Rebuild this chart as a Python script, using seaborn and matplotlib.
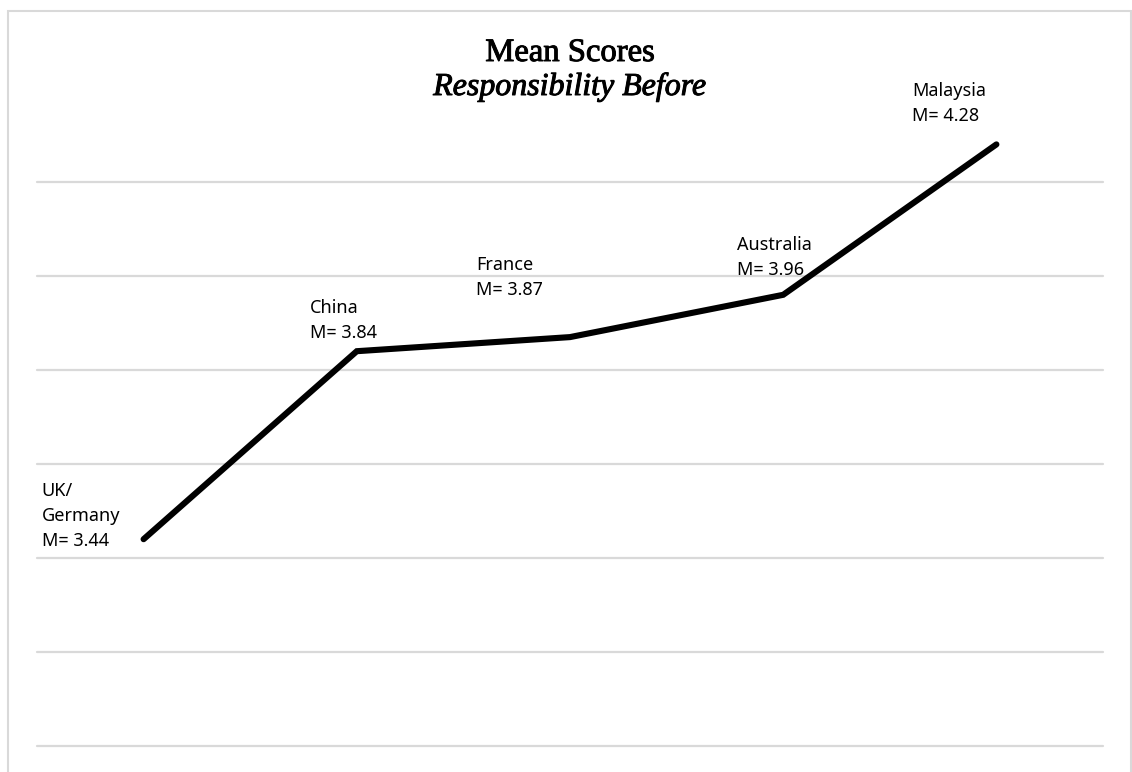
import matplotlib
matplotlib.use("Agg")
import matplotlib.pyplot as plt
import matplotlib.patheffects as pe
import seaborn as sns
import pandas as pd
from matplotlib.patches import Rectangle

# Mean responsibility scores (before) per country group
countries = ["UK/\nGermany", "China", "France", "Australia", "Malaysia"]
means = [3.44, 3.84, 3.87, 3.96, 4.28]
label_names = ["UK/\nGermany", "China", "France", "Australia", "Malaysia"]

title_main = "Mean Scores"
title_sub = "Responsibility Before"

grid_values = [3.0, 3.2, 3.4, 3.6, 3.8, 4.0, 4.2]

sns.set_theme(style="white")
plt.rcParams["font.family"] = ["Noto Sans", "DejaVu Sans"]

W, H, DPI = 1132, 772, 100
fig = plt.figure(figsize=(W / DPI, H / DPI), dpi=DPI)
ax = fig.add_axes([37 / W, 26 / H, 1066 / W, 658 / H])

df = pd.DataFrame({"country": countries, "mean": means})
df["pos"] = range(len(df))

sns.lineplot(data=df, x="pos", y="mean", ax=ax, color="black", linewidth=4.4,
             sort=False, solid_capstyle="round", solid_joinstyle="miter")

ax.set_xlim(-0.5, len(df) - 0.5)
ax.set_ylim(3.0, 4.4)
ax.set_yticks(grid_values)
ax.set_xticks([])
ax.yaxis.grid(True, color="#d9d9d9", linewidth=1.6)
for gl in ax.get_ygridlines():
    gl.set_clip_on(False)
ax.xaxis.grid(False)
ax.tick_params(left=False, bottom=False, labelleft=False, labelbottom=False)
ax.set_xlabel("")
ax.set_ylabel("")
for s in ax.spines.values():
    s.set_visible(False)
ax.set_axisbelow(True)

# label offsets (pixels) from each point to the top-left of its label
offsets = [(-102, 57), (-47, 52), (-94, 81), (-46, 59), (-84, 62)]
for i, (name, m) in enumerate(zip(label_names, means)):
    dx, dy = offsets[i]
    ax.annotate(f"{name}\nM= {m:.2f}", xy=(i, m), xytext=(dx, dy),
                textcoords="offset pixels", ha="left", va="top",
                fontsize=13, color="black", linespacing=1.5,
                annotation_clip=False)

heavier = [pe.withStroke(linewidth=0.7, foreground="black")]
fig.text(570 / W, 1 - 61 / H, title_main, ha="center", va="baseline",
         fontsize=23.5, family="Liberation Serif", color="black",
         path_effects=heavier)
fig.text(570 / W, 1 - 95 / H, title_sub, ha="center", va="baseline",
         fontsize=23, family="Liberation Serif", style="italic", color="black",
         path_effects=heavier)

# outer chart-area border
fig.patches.append(Rectangle((7.5 / W, -20 / H), (1131 - 7.5) / W, (761 + 20) / H,
                             transform=fig.transFigure, fill=False,
                             edgecolor="#d9d9d9", linewidth=1.5, zorder=0))

fig.savefig("out.png", dpi=DPI)
